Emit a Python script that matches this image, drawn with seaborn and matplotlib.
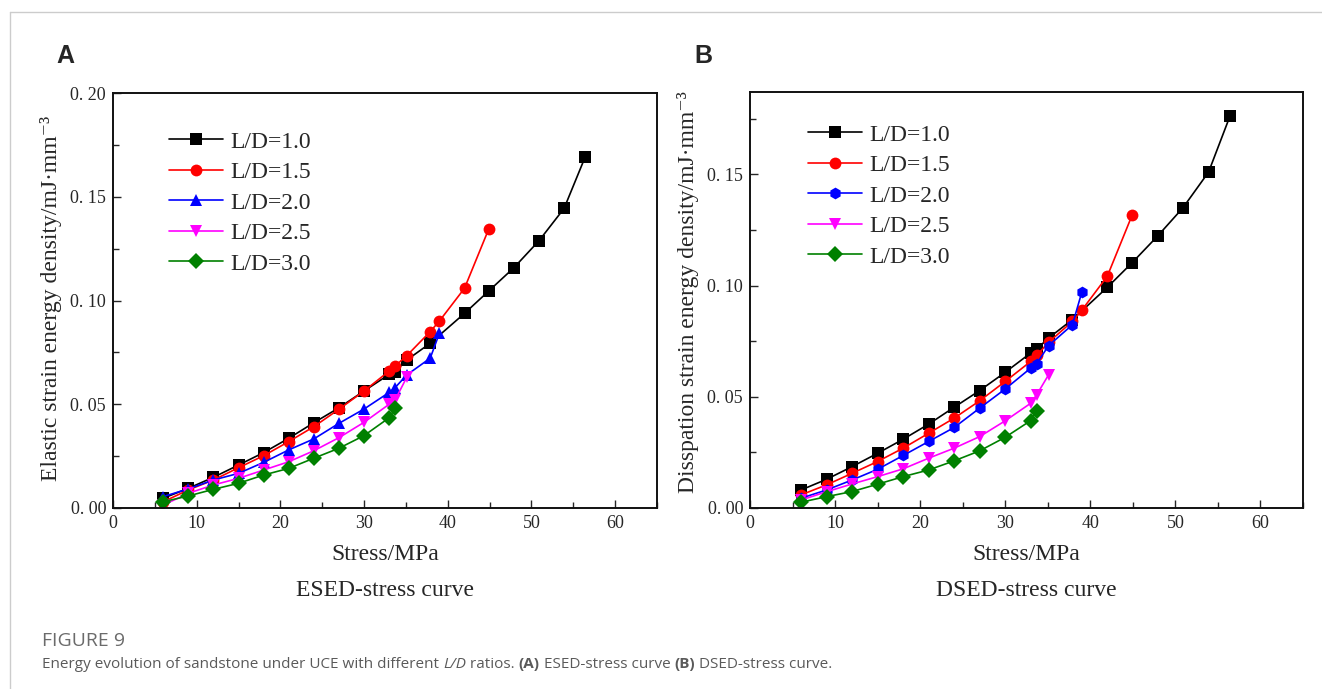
import numpy as np
import pandas as pd
import matplotlib
matplotlib.use("Agg")
import matplotlib.pyplot as plt
import seaborn as sns
from matplotlib.ticker import MultipleLocator, FuncFormatter

# ---- data ----
labels = ["L/D=1.0", "L/D=1.5", "L/D=2.0", "L/D=2.5", "L/D=3.0"]
colors = ["#000000", "#FF0000", "#0000FF", "#FF00FF", "#008000"]

stress_10 = [6, 9, 12, 15, 18, 21, 24, 27, 30, 33, 33.7, 35.1, 37.9, 42, 44.9, 47.9, 50.9, 53.9, 56.4]
stress_15 = [6, 9, 12, 15, 18, 21, 24, 27, 30, 33, 33.7, 35.1, 37.9, 39, 42, 44.9]
stress_20 = [6, 9, 12, 15, 18, 21, 24, 27, 30, 33, 33.7, 35.1, 37.9, 39]
stress_25 = [6, 9, 12, 15, 18, 21, 24, 27, 30, 33, 33.7, 35.1]
stress_30 = [6, 9, 12, 15, 18, 21, 24, 27, 30, 33, 33.7]

# elastic strain energy density (A)
esed_10 = [0.0047, 0.0095, 0.0148, 0.0207, 0.0267, 0.0336, 0.0411, 0.0483, 0.0564, 0.0644,
           0.0657, 0.0713, 0.0794, 0.0938, 0.1046, 0.1158, 0.1288, 0.1444, 0.1690]
esed_15 = [0.0030, 0.0087, 0.0135, 0.0194, 0.0252, 0.0320, 0.0392, 0.0476, 0.0564, 0.0660,
           0.0684, 0.0734, 0.0850, 0.0901, 0.1059, 0.1345]
esed_20 = [0.0055, 0.0092, 0.0135, 0.0167, 0.0220, 0.0280, 0.0333, 0.0408, 0.0477, 0.0557,
           0.0580, 0.0641, 0.0722, 0.0842]
esed_25 = [0.0014, 0.0071, 0.0111, 0.0143, 0.0183, 0.0223, 0.0276, 0.0339, 0.0413, 0.0500,
           0.0520, 0.0630]
esed_30 = [0.0030, 0.0058, 0.0090, 0.0119, 0.0159, 0.0191, 0.0240, 0.0288, 0.0349, 0.0435, 0.0480]

# dissipation strain energy density (B)
dsed_10 = [0.0081, 0.0129, 0.0186, 0.0246, 0.0309, 0.0377, 0.0453, 0.0528, 0.0610, 0.0697,
           0.0715, 0.0764, 0.0847, 0.0992, 0.1102, 0.1222, 0.1350, 0.1510, 0.1760]
dsed_15 = [0.0059, 0.0104, 0.0156, 0.0209, 0.0269, 0.0336, 0.0404, 0.0482, 0.0569, 0.0659,
           0.0686, 0.0745, 0.0839, 0.0889, 0.1042, 0.1315]
dsed_20 = [0.0044, 0.0081, 0.0126, 0.0174, 0.0236, 0.0299, 0.0362, 0.0449, 0.0535, 0.0629,
           0.0649, 0.0730, 0.0824, 0.0970]
dsed_25 = [0.0036, 0.0073, 0.0108, 0.0141, 0.0176, 0.0224, 0.0269, 0.0321, 0.0392, 0.0471,
           0.0509, 0.0599]
dsed_30 = [0.0026, 0.0051, 0.0074, 0.0107, 0.0141, 0.0171, 0.0212, 0.0257, 0.0318, 0.0393, 0.0438]

stress_all = [stress_10, stress_15, stress_20, stress_25, stress_30]
esed_all = [esed_10, esed_15, esed_20, esed_25, esed_30]
dsed_all = [dsed_10, dsed_15, dsed_20, dsed_25, dsed_30]


def long_frame(values):
    rows = []
    for lab, xs, ys in zip(labels, stress_all, values):
        for x, y in zip(xs, ys):
            rows.append({"stress": x, "val": y, "series": lab})
    return pd.DataFrame(rows)


sns.set_style("white")
plt.rcParams["font.family"] = ["Liberation Serif", "DejaVu Serif"]

W, H = 1322, 689
fig = plt.figure(figsize=(W / 100, H / 100), dpi=100)


def fx(px):
    return px / W


def fy(py):
    return 1 - py / H


ax_a = fig.add_axes([fx(113), fy(508), fx(657) - fx(113), fy(93) - fy(508)])
ax_b = fig.add_axes([fx(750), fy(508), fx(1303) - fx(750), fy(92) - fy(508)])

markers_a = dict(zip(labels, ["s", "o", "^", "v", "D"]))
markers_b = dict(zip(labels, ["s", "o", "h", "v", "D"]))
palette = dict(zip(labels, colors))

tick_fmt = FuncFormatter(lambda v, p: f"{v:.2f}".replace(".", ". "))

for ax, vals, mk, ytop, leg_xy, spacing in [
    (ax_a, esed_all, markers_a, 0.20, (0.103, 0.908), 0.38),
    (ax_b, dsed_all, markers_b, 0.187, (0.105, 0.923), 0.38),
]:
    df = long_frame(vals)
    sns.lineplot(
        data=df, x="stress", y="val", hue="series", style="series",
        markers=mk, dashes=False, palette=palette, estimator=None, sort=False,
        markersize=8.5, markeredgewidth=0, linewidth=1.2, ax=ax,
    )
    ax.set_xlim(0, 65)
    ax.set_ylim(0, ytop)
    ax.xaxis.set_major_locator(MultipleLocator(10))
    ax.xaxis.set_minor_locator(MultipleLocator(5))
    ax.yaxis.set_major_locator(MultipleLocator(0.05))
    ax.yaxis.set_minor_locator(MultipleLocator(0.025))
    ax.yaxis.set_major_formatter(tick_fmt)
    ax.tick_params(which="both", direction="in", bottom=True, left=True, top=False, right=False,
                   labelsize=13, width=1.0, pad=5)
    ax.tick_params(which="major", length=6)
    ax.tick_params(which="minor", length=4)
    for sp in ax.spines.values():
        sp.set_linewidth(1.4)
        sp.set_color("#111111")
    ax.set_xlabel("")
    ax.set_ylabel("")
    ax.legend(loc="upper left", bbox_to_anchor=leg_xy, frameon=False, fontsize=17,
              handlelength=2.3, handletextpad=0.3, labelspacing=spacing, borderpad=0,
              borderaxespad=0)

# axis labels and subtitles
fig.text(fx(51), fy(298), "Elastic strain energy density/mJ·mm⁻³", rotation=90,
         ha="center", va="center", fontsize=17)
fig.text(fx(688), fy(292), "Disspation strain energy density/mJ·mm⁻³", rotation=90,
         ha="center", va="center", fontsize=17)
for cx, sub in [(385, "ESED-stress curve"), (1026, "DSED-stress curve")]:
    fig.text(fx(cx), fy(554), "Stress/MPa", ha="center", va="center", fontsize=17)
    fig.text(fx(cx), fy(590), sub, ha="center", va="center", fontsize=17)

# panel letters
for px, letter in [(65, "A"), (703, "B")]:
    fig.text(fx(px), fy(56), letter, ha="center", va="center", fontsize=18,
             fontweight="bold", family="Liberation Sans")

# outer frame lines
fig.add_artist(plt.Line2D([fx(10), 1], [fy(12), fy(12)], color="#cccccc", lw=1))
fig.add_artist(plt.Line2D([fx(10), fx(10)], [fy(12), 0], color="#cccccc", lw=1))

# caption
cap_font = "Open Sans"
fig.text(fx(42), fy(641), "FIGURE 9", ha="left", va="center", fontsize=14,
         family=cap_font, color="#6b6b6b")

renderer = fig.canvas.get_renderer()
parts = [
    ("Energy evolution of sandstone under UCE with different ", {}),
    ("L/D", {"style": "italic"}),
    (" ratios. ", {}),
    ("(A)", {"weight": "bold"}),
    (" ESED-stress curve ", {}),
    ("(B)", {"weight": "bold"}),
    (" DSED-stress curve.", {}),
]
x0 = fx(42)
for txt, kw in parts:
    t = fig.text(x0, fy(664), txt, ha="left", va="center", fontsize=11,
                 family=cap_font, color="#5a5a5a", **kw)
    bb = t.get_window_extent(renderer)
    x0 = bb.x1 / fig.bbox.width

fig.savefig("out.png", dpi=100)
